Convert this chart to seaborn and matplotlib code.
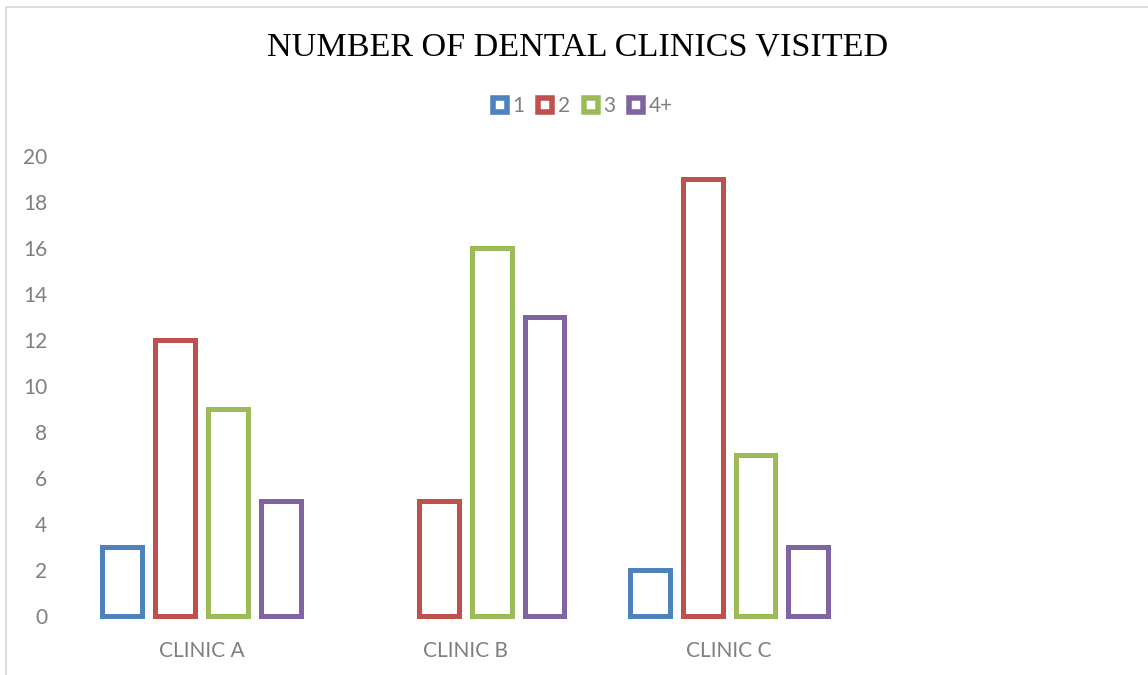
import matplotlib
matplotlib.use("Agg")
import matplotlib.pyplot as plt
from matplotlib.lines import Line2D
import pandas as pd
import seaborn as sns

# Visit counts per clinic, by number of dental clinics visited
clinics = ["CLINIC A", "CLINIC B", "CLINIC C"]
visit_groups = ["1", "2", "3", "4+"]
clinic_a = [3, 12, 9, 5]
clinic_b = [None, 5, 16, 13]   # no respondents in group "1"
clinic_c = [2, 19, 7, 3]
y_ticks = [0, 2, 4, 6, 8, 10, 12, 14, 16, 18, 20]

colors = ["#4F81BD", "#C0504D", "#9BBB59", "#8064A2"]
text_gray = "#7F7F7F"
title = "NUMBER OF DENTAL CLINICS VISITED"

rows = []
for clinic, vals in zip(clinics, [clinic_a, clinic_b, clinic_c]):
    for grp, v in zip(visit_groups, vals):
        if v is not None:
            rows.append({"clinic": clinic, "visits": grp, "count": v})
df = pd.DataFrame(rows)

sns.set_theme(style="white")
plt.rcParams["font.family"] = ["Lato", "DejaVu Sans"]

W, H = 1148, 675
fig = plt.figure(figsize=(W / 100, H / 100), dpi=100)
ax = fig.add_axes([69.5 / W, (H - 616) / H, (1125 - 69.5) / W, 460 / H])

sns.barplot(
    data=df, x="clinic", y="count", hue="visits",
    order=clinics, hue_order=visit_groups, palette=colors,
    width=0.8, gap=0.245, fill=False, linewidth=3.6,
    errorbar=None, legend=False, ax=ax,
)
for p in ax.patches:
    p.set_clip_on(False)
    p.set_joinstyle("miter")

ax.set_xlim(-0.5, 3.5)
ax.set_ylim(0, 20)
ax.set_yticks(y_ticks)
ax.set_xlabel("")
ax.set_ylabel("")
sns.despine(ax=ax, left=True, bottom=True)
ax.tick_params(axis="y", length=0, pad=16, labelsize=15, labelcolor=text_gray)
ax.tick_params(axis="x", length=0, pad=18, labelsize=15, labelcolor=text_gray)

# Title and legend across the top
fig.text(578 / W, 1 - 47 / H, title, ha="center", va="center",
         family=["Liberation Serif", "DejaVu Serif"], fontsize=24.6, color="black")

handles = [
    Line2D([], [], linestyle="none", marker="s", markersize=9.6,
           markerfacecolor="white", markeredgecolor=c, markeredgewidth=4.0,
           label=g)
    for g, c in zip(visit_groups, colors)
]
fig.legend(handles=handles, loc="center", bbox_to_anchor=(582 / W, 1 - 106 / H),
           ncol=4, frameon=False, fontsize=15, labelcolor=text_gray,
           handlelength=0.85, handletextpad=0.2, columnspacing=0.55,
           borderpad=0, borderaxespad=0)

# Light chart-area frame
frame_kw = dict(color="#D9D9D9", linewidth=1.3, transform=fig.transFigure)
fig.add_artist(Line2D([5.5 / W, 5.5 / W], [0, 1 - 6.5 / H], **frame_kw))
fig.add_artist(Line2D([5.5 / W, 1], [1 - 6.5 / H, 1 - 6.5 / H], **frame_kw))

fig.savefig("out.png", dpi=100, facecolor="white")
